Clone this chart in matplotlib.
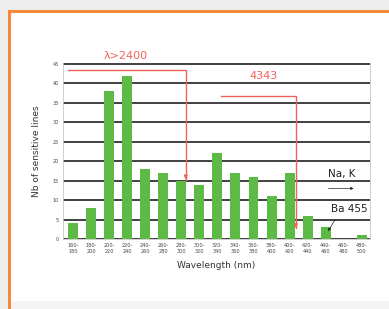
import matplotlib.pyplot as plt
from matplotlib.patches import Rectangle
from matplotlib.lines import Line2D

# wavelength bins (nm) and number of sensitive lines per bin
bins = ["160-\n180", "180-\n200", "200-\n220", "220-\n240", "240-\n260", "260-\n280",
        "280-\n300", "300-\n320", "320-\n340", "340-\n360", "360-\n380", "380-\n400",
        "400-\n420", "420-\n440", "440-\n460", "460-\n480", "480-\n500"]
counts = [4, 8, 38, 42, 18, 17, 15, 14, 22, 17, 16, 11, 17, 6, 3, 0, 1]
yticks = [0, 5, 10, 15, 20, 25, 30, 35, 40, 45]

# annotation paths (bin index, count)
path_2400 = ([-0.3, 6.25, 6.25], [43.5, 43.5, 15.2])
path_4343 = ([8.2, 12.35, 12.35], [36.8, 36.8, 2.7])

GREEN = "#5cba45"
RED = "#f0625a"

fig = plt.figure(figsize=(3.89, 3.09), dpi=100)
fig.patch.set_facecolor("#eeeeef")

# white card with orange frame
fig.patches.append(Rectangle((9 / 389, -0.1), 1.2, 1 - 11 / 309 + 0.1,
                             transform=fig.transFigure, facecolor="white",
                             edgecolor="none", zorder=-2))
fig.patches.append(Rectangle((10 / 389, 0), 1, 8 / 309, transform=fig.transFigure,
                             facecolor="#f4f4f4", edgecolor="none", zorder=-1))
fig.add_artist(Line2D([9 / 389, 1], [1 - 11 / 309] * 2, color="#f68a3a", lw=2.2))
fig.add_artist(Line2D([9 / 389] * 2, [0, 1 - 11 / 309], color="#f68a3a", lw=2.2))

ax = fig.add_axes([63 / 389, 1 - 239 / 309, 307 / 389, 176 / 309])
ax.set_zorder(3)
ax.set_facecolor("white")
x = list(range(len(bins)))
ax.bar(x, counts, width=0.55, color=GREEN, zorder=3)

ax.set_xlim(-0.55, 16.45)
ax.set_ylim(0, 45.25)
ax.set_yticks(yticks)
ax.set_yticklabels([str(v) for v in yticks], fontsize=3.5, color="#444444")
ax.set_xticks(x)
ax.set_xticklabels(bins, fontsize=3.6, color="#444444", linespacing=1.3)
ax.tick_params(length=0, pad=3)
ax.yaxis.grid(True, color="#333333", lw=1.3, zorder=1)
for side in ax.spines:
    ax.spines[side].set_color("#c8c8c8")
    ax.spines[side].set_linewidth(0.6)
ax.spines["top"].set_visible(False)

ax.set_xlabel("Wavelength (nm)", fontsize=6.5, color="#333333", labelpad=5)
ax.set_ylabel("Nb of sensitive lines", fontsize=6.5, color="#333333", labelpad=8)

# red annotations
for px, py in (path_2400, path_4343):
    ax.plot(px, py, color=RED, lw=1.0, zorder=4, clip_on=False)
    ax.annotate("", xy=(px[-1], py[-1] - 0.6), xytext=(px[-1], py[-1] + 1.5),
                arrowprops=dict(arrowstyle="-|>", color=RED, lw=1.0,
                                mutation_scale=5), zorder=4)
ax.text(2.9, 45.8, "λ>2400", color=RED, fontsize=8, ha="center", va="bottom",
        clip_on=False)
ax.text(10.55, 41.8, "4343", color=RED, fontsize=8, ha="center", va="center")

# black annotations
ax.text(14.9, 16.7, "Na, K", color="#222222", fontsize=7.5, ha="center", va="center")
ax.annotate("", xy=(15.7, 13.0), xytext=(14.0, 13.0),
            arrowprops=dict(arrowstyle="-|>", color="#222222", lw=0.5,
                            mutation_scale=4), zorder=5)
ax.text(15.3, 7.6, "Ba 455", color="#222222", fontsize=7.5, ha="center", va="center")
ax.annotate("", xy=(14.05, 1.4), xytext=(14.6, 5.6),
            arrowprops=dict(arrowstyle="-|>", color="#222222", lw=0.5,
                            mutation_scale=4), zorder=5)

fig.savefig("out.png", dpi=100)
